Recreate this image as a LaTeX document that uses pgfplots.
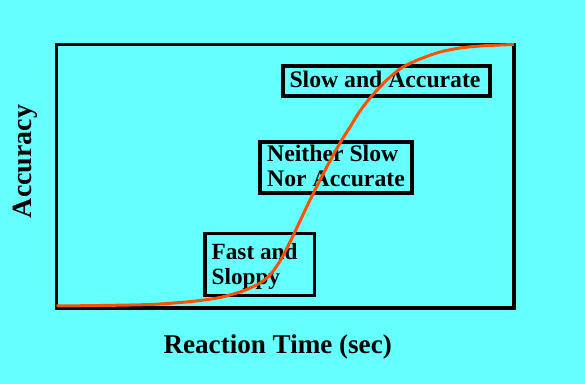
\documentclass[border=0pt]{standalone}
\usepackage{pgfplots}
\pgfplotsset{compat=1.18}
\usepackage{fontspec}
\setmainfont{Liberation Serif}
\definecolor{bgcyan}{HTML}{66FFFF}
\definecolor{curve}{HTML}{FF5000}
\begin{document}
\begin{tikzpicture}
\fill[bgcyan] (0bp,0bp) rectangle (585bp,384bp);
\begin{axis}[
  at={(56.5bp,76bp)}, anchor=south west,
  width=457.5bp, height=263.5bp, scale only axis,
  xmin=56.5, xmax=514, ymin=-308, ymax=-44.5,
  ticks=none, clip=false,
  axis line style={line width=3.2bp, black},
]
% boxes
\draw[line width=3.2bp] (axis cs:283,-66) rectangle (axis cs:490,-96);
\draw[line width=3.2bp] (axis cs:260,-142) rectangle (axis cs:412,-193);
\draw[line width=3.2bp] (axis cs:205,-233.5) rectangle (axis cs:314.5,-295.5);
% texts
\node[anchor=base, inner sep=0pt, font=\fontsize{23.8}{28}\selectfont\bfseries] at (axis cs:385,-88) {Slow and Accurate};
\node[anchor=base west, inner sep=0pt, font=\fontsize{23.8}{28}\selectfont\bfseries] at (axis cs:267,-161.7) {Neither Slow};
\node[anchor=base west, inner sep=0pt, font=\fontsize{23.8}{28}\selectfont\bfseries] at (axis cs:267,-187) {Nor Accurate};
\node[anchor=base west, inner sep=0pt, font=\fontsize{23.3}{28}\selectfont\bfseries] at (axis cs:211.5,-259.3) {Fast and};
\node[anchor=base west, inner sep=0pt, font=\fontsize{23.3}{28}\selectfont\bfseries] at (axis cs:211.5,-284.3) {Sloppy};
% axis labels
\node[anchor=base, inner sep=0pt, font=\fontsize{27.2}{30}\selectfont\bfseries] at (axis cs:277.7,-353) {Reaction Time (sec)};
\node[anchor=base, inner sep=0pt, rotate=90, font=\fontsize{28}{30}\selectfont\bfseries] at (axis cs:31.7,-161.5) {Accuracy};
% curve
\addplot[color=curve, line width=3bp, smooth, tension=0.5] coordinates {
(56.5,-306) (100,-305.5) (150,-304.5) (180,-302.5) (200,-300.5) (220,-297.5)
(240,-292) (250,-288) (260,-283) (270,-275) (280,-261) (290,-242) (300,-221)
(310,-200) (320,-180) (330,-161) (340,-143) (350,-127) (360,-111) (370,-98)
(380,-87) (390,-77) (403,-67) (420,-59) (440,-52) (460,-48) (480,-46)
(500,-45) (514,-44.5)
};
\end{axis}
\pgfresetboundingbox
\useasboundingbox (0bp,0bp) rectangle (585bp,384bp);
\end{tikzpicture}
\end{document}
